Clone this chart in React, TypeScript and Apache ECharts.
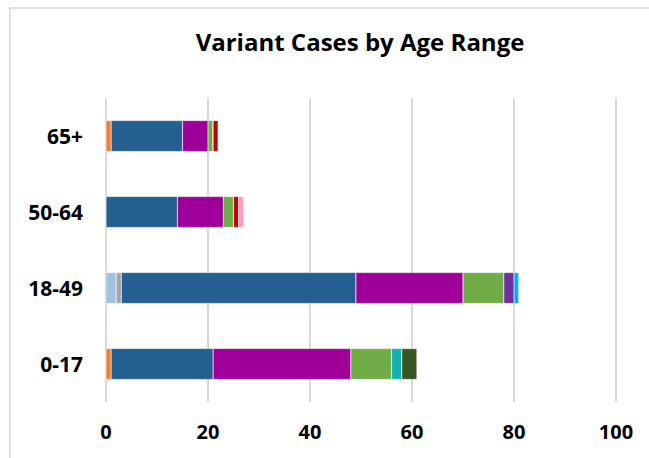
import React, { useEffect, useRef } from "react";
import * as echarts from "echarts";

const categories = ["0-17", "18-49", "50-64", "65+"];
const seriesNames = [
  "Variant A", "Variant B", "Variant C", "Variant D", "Variant E", "Variant F",
  "Variant G", "Variant H", "Variant I", "Variant J", "Variant K", "Variant L",
];
const seriesColors = [
  "#9DC3E6", "#A5A5A5", "#ED7D31", "#255E91", "#9E0099", "#70AD47",
  "#7030A0", "#00B0F0", "#12B2AE", "#375623", "#C00000", "#FF99CC",
];
// values per category in order: 0-17, 18-49, 50-64, 65+
const seriesValues: number[][] = [
  [0, 2, 0, 0],
  [0, 1, 0, 0],
  [1, 0, 0, 1],
  [20, 46, 14, 14],
  [27, 21, 9, 5],
  [8, 8, 2, 1],
  [0, 2, 0, 0],
  [0, 1, 0, 0],
  [2, 0, 0, 0],
  [3, 0, 0, 0],
  [0, 0, 1, 1],
  [0, 0, 1, 0],
];
const xTicks = [0, 20, 40, 60, 80, 100];

const FONT = "'Open Sans', Lato, sans-serif";

export default function App() {
  const ref = useRef<HTMLDivElement>(null);
  useEffect(() => {
    if (!ref.current) return;
    const chart = echarts.init(ref.current, undefined, { renderer: "svg" });
    chart.setOption({
      animation: false,
      backgroundColor: "#ffffff",
      title: {
        text: "Variant Cases by Age Range",
        left: 355,
        top: 24,
        textAlign: "center",
        textStyle: { fontFamily: FONT, fontSize: 24, fontWeight: "bold", color: "#000" },
      },
      graphic: [
        {
          type: "rect",
          shape: { x: 10, y: 8, width: 700, height: 520 },
          style: { fill: "none", stroke: "#d9d9d9", lineWidth: 1.5 },
          silent: true,
        },
      ],
      grid: { left: 106, right: 33, top: 98, bottom: 56 },
      xAxis: {
        type: "value",
        min: xTicks[0],
        max: xTicks[xTicks.length - 1],
        interval: 20,
        axisLine: { show: false },
        axisTick: { show: false },
        splitLine: { show: true, lineStyle: { color: "#d9d9d9", width: 2 } },
        axisLabel: {
          margin: 19,
          fontFamily: FONT,
          fontSize: 20,
          fontWeight: "bold",
          color: "#000",
        },
      },
      yAxis: {
        type: "category",
        data: categories,
        axisLine: { show: false },
        axisTick: { show: false },
        axisLabel: {
          margin: 23,
          fontFamily: FONT,
          fontSize: 21,
          fontWeight: "bold",
          color: "#000",
        },
      },
      series: seriesNames.map((name, i) => ({
        name,
        type: "bar",
        stack: "total",
        data: seriesValues[i],
        barWidth: 31,
        itemStyle: {
          color: seriesColors[i],
          borderColor: "rgba(255,255,255,0.35)",
          borderWidth: 0.6,
        },
      })),
    });
    return () => chart.dispose();
  }, []);
  return (
    <div
      ref={ref}
      style={{ position: "fixed", left: 0, top: 0, width: 649, height: 458 }}
    />
  );
}
